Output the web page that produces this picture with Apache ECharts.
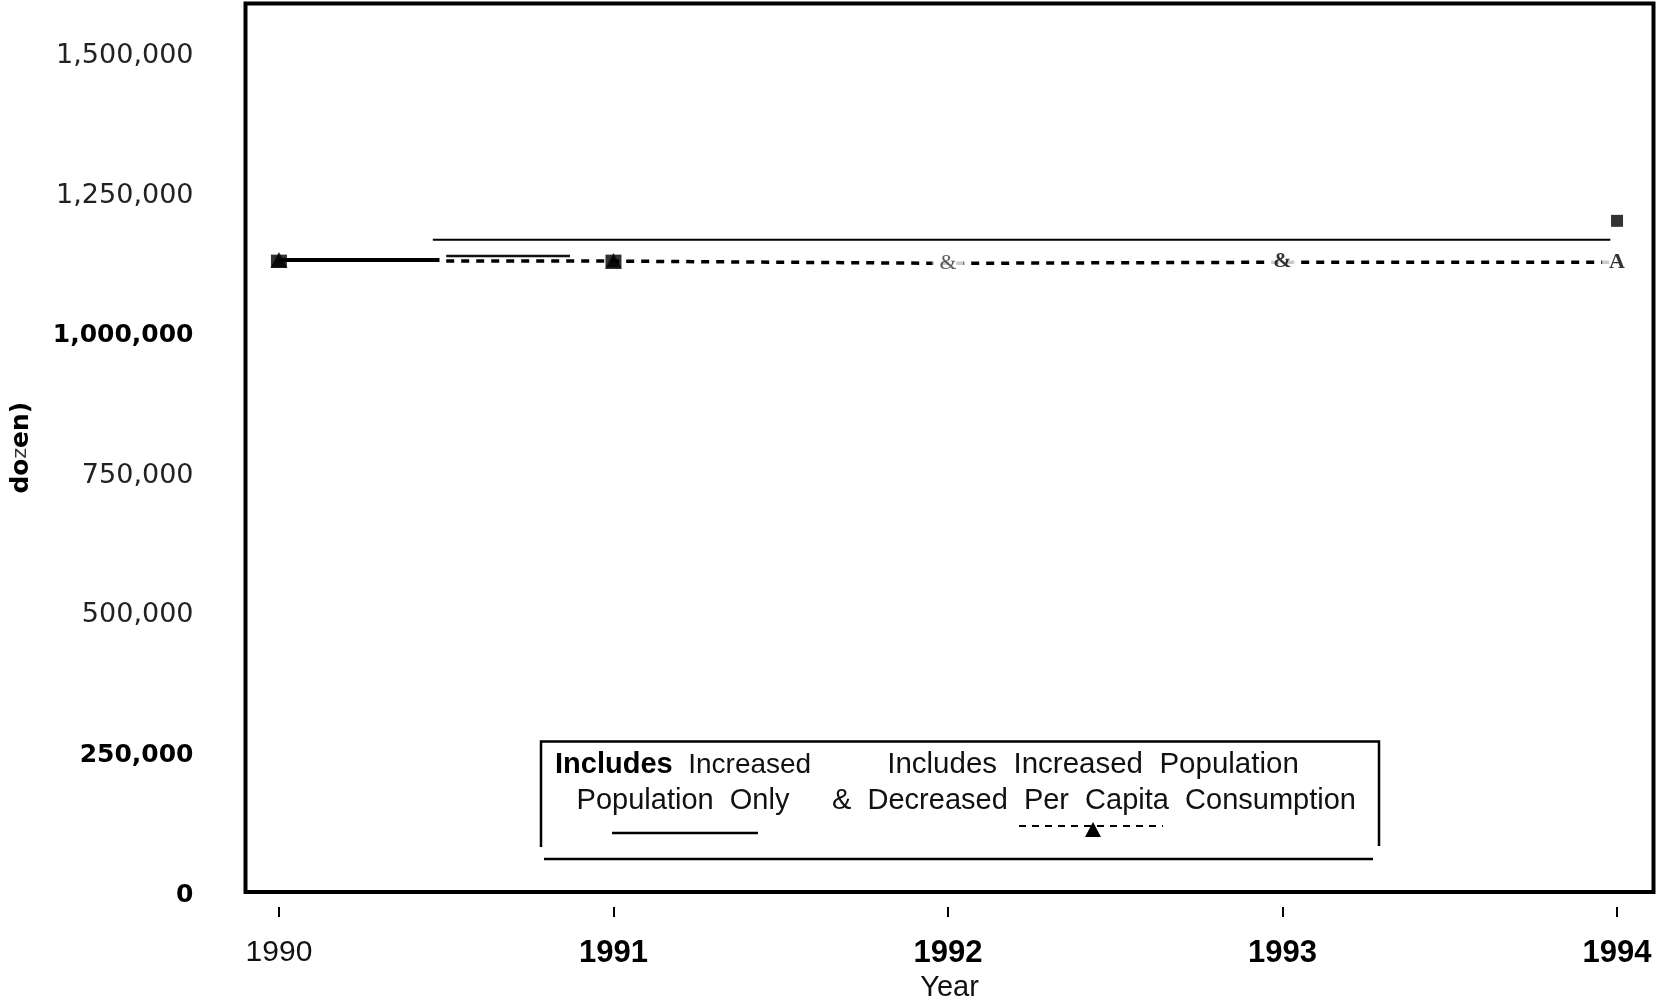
<!DOCTYPE html>
<html>
<head>
<meta charset="utf-8">
<script src="https://cdn.jsdelivr.net/npm/echarts@6/dist/echarts.min.js"></script>
<style>
  html, body { margin: 0; padding: 0; background: #fff; }
  #chart { width: 1661px; height: 1005px; }
</style>
</head>
<body>
<div id="chart"></div>
<script>
// ---------- data ----------
const years = [1990, 1991, 1992, 1993, 1994];
const yTicks = [0, 250000, 500000, 750000, 1000000, 1250000, 1500000];

// "Includes Increased Population Only" (solid) — pieces as they appear in the scan
const solidThickX = [1990, 1990.48];
const solidThickY = [1130000, 1130000];
const solidUpperX = [1990.46, 1993.98];
const solidUpperY = [1166000, 1166000];
const solidShortX = [1990.5, 1990.87];
const solidShortY = [1137000, 1137000];
const squareX = [1990, 1991];
const squareY = [1128000, 1128000];
const square94X = [1994];
const square94Y = [1200000];

// "Includes Increased Population & Decreased Per Capita Consumption" (dashed)
const dashedX = [1990.5, 1991, 1992, 1993, 1994];
const dashedY = [1128000, 1128000, 1124000, 1126000, 1126000];
const triangleX = [1990, 1991];
const triangleY = [1130000, 1128000];
const glyphX = [1992, 1993, 1994];
const glyphY = [1124000, 1127000, 1126000];
const glyphText = ['&', '&', 'A'];

const zip = (xs, ys) => xs.map((x, i) => [x, ys[i]]);

const chart = echarts.init(document.getElementById('chart'), null, { renderer: 'canvas' });

const SANS = "'Liberation Sans', Arial, sans-serif";
const DJ = "'DejaVu Sans', sans-serif";
const SERIF = "'Liberation Serif', 'DejaVu Serif', serif";

const option = {
  backgroundColor: '#fff',
  animation: false,
  grid: {
    left: 245.5, right: 7.5, top: 3.5, bottom: 113,
    outerBoundsMode: 'none', containLabel: false,
    show: true, borderColor: '#000', borderWidth: 4, backgroundColor: 'transparent'
  },
  xAxis: [
    {
      type: 'value', min: 1989.9, max: 1994.109,
      axisLine: { show: false }, axisTick: { show: false },
      axisLabel: { show: false }, splitLine: { show: false }
    },
    {
      type: 'value', min: 1989.9, max: 1994.109, position: 'bottom', offset: 15,
      axisLine: { show: false },
      axisTick: { show: true, customValues: years, length: 10, lineStyle: { color: '#000', width: 2 } },
      splitLine: { show: false },
      axisLabel: {
        customValues: years, margin: 31,
        formatter: v => (v === 1990 ? '{r|' + v + '}' : '{b|' + v + '}'),
        rich: {
          r: { fontFamily: SANS, fontSize: 30, color: '#111' },
          b: { fontFamily: SANS, fontSize: 31, fontWeight: 'bold', color: '#000' }
        }
      },
      name: 'Year', nameLocation: 'middle', nameGap: 64,
      nameTextStyle: { fontFamily: SANS, fontSize: 29, color: '#111' }
    }
  ],
  yAxis: {
    type: 'value', min: 0, max: 1588600,
    axisLine: { show: false }, axisTick: { show: false }, splitLine: { show: false },
    axisLabel: {
      customValues: yTicks, margin: 52,
      formatter: v => {
        const s = v.toLocaleString('en-US');
        if (v === 250000) return '{s|' + s + '}';
        if (v === 0 || v === 1000000) return '{b|' + s + '}';
        return '{r|' + s + '}';
      },
      rich: {
        r: { fontFamily: DJ, fontSize: 27, color: '#222', padding: [6, 0, 0, 0] },
        b: { fontFamily: DJ, fontSize: 25, fontWeight: 'bold', color: '#000', padding: [6, 0, 0, 0] },
        s: { fontFamily: DJ, fontSize: 25, fontWeight: 'bold', color: '#000', padding: [6, 0, 0, 0] }
      }
    },
    name: '{b|do}{z|z}{b|en)}', nameLocation: 'middle', nameRotate: 90, nameGap: 212,
    nameTextStyle: {
      rich: {
        b: { fontFamily: DJ, fontSize: 25, fontWeight: 'bold', color: '#000' },
        z: { fontFamily: DJ, fontSize: 20, color: '#333' }
      }
    }
  },
  series: [
    {
      name: 'Includes Increased Population & Decreased Per Capita Consumption',
      type: 'line', data: zip(dashedX, dashedY), symbol: 'none', z: 2,
      lineStyle: { color: '#000', width: 3.5, type: [8, 7] }
    },
    {
      name: 'Includes Increased Population Only', type: 'line',
      data: zip(solidThickX, solidThickY), symbol: 'none', z: 3,
      lineStyle: { color: '#000', width: 4 }
    },
    {
      name: 'Includes Increased Population Only (upper)', type: 'line',
      data: zip(solidUpperX, solidUpperY), symbol: 'none', z: 3,
      lineStyle: { color: '#000', width: 2 }
    },
    {
      name: 'Includes Increased Population Only (short)', type: 'line',
      data: zip(solidShortX, solidShortY), symbol: 'none', z: 3,
      lineStyle: { color: '#111', width: 2.5 }
    },
    {
      name: 'squares', type: 'scatter', data: zip(squareX, squareY), z: 4,
      symbol: 'rect', symbolSize: [16, 13], itemStyle: { color: '#000' }
    },
    {
      name: 'square 1994', type: 'scatter', data: zip(square94X, square94Y), z: 4,
      symbol: 'rect', symbolSize: 12, itemStyle: { color: '#000' }
    },
    {
      name: 'triangles', type: 'scatter', data: zip(triangleX, triangleY), z: 5,
      symbol: 'triangle', symbolSize: [17, 16], itemStyle: { color: '#000' }
    },
    {
      name: 'glyphs', type: 'scatter', z: 6,
      data: glyphX.map((x, i) => ({ value: [x, glyphY[i]], name: glyphText[i] })),
      symbolSize: 1, itemStyle: { color: 'rgba(0,0,0,0)' },
      label: {
        show: true, position: 'inside', backgroundColor: '#fff', padding: [0, 7],
        formatter: p => (p.dataIndex === 0 ? '{r|' + p.name + '}' : '{b|' + p.name + '}'),
        rich: {
          r: { fontFamily: SERIF, fontSize: 22, color: '#333' },
          b: { fontFamily: SERIF, fontSize: 22, fontWeight: 'bold', color: '#000' }
        }
      }
    }
  ],
  graphic: [
    // legend frame
    { type: 'polyline', shape: { points: [[541, 847], [541, 741.5], [1379, 741.5], [1379, 846]] },
      style: { stroke: '#000', lineWidth: 2.5, fill: null } },
    { type: 'line', shape: { x1: 544, y1: 859, x2: 1373, y2: 859 }, style: { stroke: '#000', lineWidth: 2.5 } },
    // left legend entry
    { type: 'text', style: {
        x: 555, y: 765, text: '{b|Includes}  {r|Increased}', textVerticalAlign: 'middle', textAlign: 'left',
        font: "28px 'Liberation Sans', Arial, sans-serif",
        rich: {
          b: { fontFamily: SANS, fontSize: 29, fontWeight: 'bold', fill: '#000' },
          r: { fontFamily: SANS, fontSize: 28, fill: '#111' }
        } } },
    { type: 'text', style: { x: 683, y: 801, text: 'Population  Only', textAlign: 'center', textVerticalAlign: 'middle',
        font: "29px 'Liberation Sans', Arial, sans-serif", fill: '#111' } },
    { type: 'line', shape: { x1: 612, y1: 833, x2: 758, y2: 833 }, style: { stroke: '#000', lineWidth: 2.5 } },
    // right legend entry
    { type: 'text', style: { x: 1093, y: 765, text: 'Includes  Increased  Population', textAlign: 'center', textVerticalAlign: 'middle',
        font: "29.5px 'Liberation Sans', Arial, sans-serif", fill: '#111' } },
    { type: 'text', style: { x: 1094, y: 801, text: '&  Decreased  Per  Capita  Consumption', textAlign: 'center', textVerticalAlign: 'middle',
        font: "29px 'Liberation Sans', Arial, sans-serif", fill: '#111' } },
    { type: 'line', shape: { x1: 1019, y1: 826, x2: 1163, y2: 826 }, style: { stroke: '#000', lineWidth: 2, lineDash: [7, 6] } },
    { type: 'polygon', shape: { points: [[1093, 822], [1085, 837], [1101, 837]] }, style: { fill: '#000' } }
  ]
};

chart.setOption(option);
</script>
</body>
</html>
